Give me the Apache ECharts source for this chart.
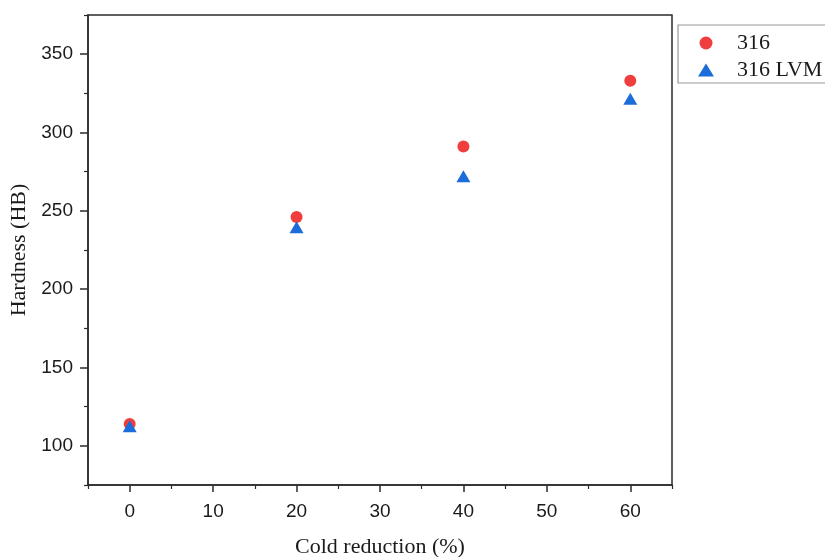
<!DOCTYPE html>
<html>
<head>
<meta charset="utf-8">
<script src="https://cdn.jsdelivr.net/npm/echarts@6/dist/echarts.min.js"></script>
<style>
  html, body { margin: 0; padding: 0; background: #fff; }
  #chart { width: 825px; height: 557px; }
</style>
</head>
<body>
<div id="chart"></div>
<script>
// cold reduction (%) vs Brinell hardness
const reduction = [0, 20, 40, 60]
const hardness316 = [114, 246, 291, 333]
const hardness316LVM = [112.5, 239.5, 272, 321.5]
const seriesNames = ['316', '316 LVM']
const xMajor = [0, 10, 20, 30, 40, 50, 60]
const xMinor = [-5, 5, 15, 25, 35, 45, 55, 65]
const yMajor = [100, 150, 200, 250, 300, 350]
const yMinor = [75, 125, 175, 225, 275, 325, 375]

const axisColor = '#2b2b2b'
const tickFont = { color: '#1a1a1a', fontSize: 19, fontFamily: 'Liberation Sans, Arial' }
const nameFont = { color: '#1a1a1a', fontSize: 22, fontFamily: 'Liberation Serif, Times New Roman' }

const chart = echarts.init(document.getElementById('chart'))

// 第二组轴只用来画短的次刻度
function minorAxis(min, max, ticks) {
  return {
    type: 'value', min, max,
    axisLine: { show: false, onZero: false },
    axisTick: { show: true, length: 4, lineStyle: { color: axisColor, width: 1.2 }, customValues: ticks },
    axisLabel: { show: false },
    splitLine: { show: false }
  }
}

chart.setOption({
  animation: false,
  grid: {
    left: 88, top: 15, width: 584, height: 470,
    containLabel: false, outerBoundsMode: 'none',
    show: true, borderColor: axisColor, borderWidth: 1.5, backgroundColor: 'transparent'
  },
  legend: {
    orient: 'vertical',
    left: 678, top: 25,
    padding: [7, 30, 2, 20],
    itemWidth: 16, itemHeight: 13, itemGap: 5,
    borderColor: '#999', borderWidth: 1.2,
    textStyle: { ...nameFont, fontSize: 22, padding: [0, 0, 0, 18] },
    data: seriesNames
  },
  xAxis: [
    {
      type: 'value',
      min: -5, max: 65,
      name: 'Cold reduction (%)',
      nameLocation: 'middle', nameGap: 51,
      nameTextStyle: nameFont,
      axisLine: { show: true, onZero: false, lineStyle: { color: axisColor, width: 1.5 } },
      axisTick: { show: true, length: 7, lineStyle: { color: axisColor, width: 1.5 }, customValues: xMajor },
      axisLabel: { ...tickFont, margin: 17, customValues: xMajor },
      splitLine: { show: false }
    },
    { ...minorAxis(-5, 65, xMinor), position: 'bottom' }
  ],
  yAxis: [
    {
      type: 'value',
      min: 75, max: 375,
      name: 'Hardness (HB)',
      nameLocation: 'middle', nameGap: 58,
      nameTextStyle: nameFont,
      axisLine: { show: true, onZero: false, lineStyle: { color: axisColor, width: 1.5 } },
      axisTick: { show: true, length: 8, lineStyle: { color: axisColor, width: 1.5 }, customValues: yMajor },
      axisLabel: { ...tickFont, margin: 15, customValues: yMajor },
      splitLine: { show: false }
    },
    { ...minorAxis(75, 375, yMinor), position: 'left' }
  ],
  series: [
    {
      name: seriesNames[0],
      type: 'scatter',
      symbol: 'circle',
      symbolSize: 12,
      itemStyle: { color: '#f03e3e', opacity: 1 },
      data: reduction.map((x, i) => [x, hardness316[i]])
    },
    {
      name: seriesNames[1],
      type: 'scatter',
      symbol: 'triangle',
      symbolSize: [14, 12],
      itemStyle: { color: '#1c6cd9', opacity: 1 },
      data: reduction.map((x, i) => [x, hardness316LVM[i]])
    }
  ]
})
</script>
</body>
</html>
